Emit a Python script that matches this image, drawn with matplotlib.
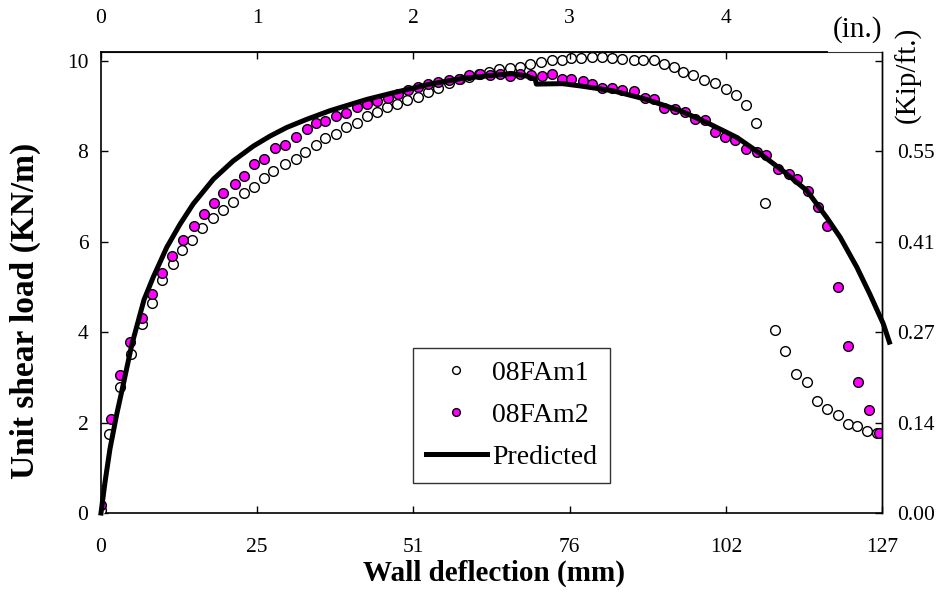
import matplotlib
matplotlib.use("Agg")
import matplotlib.pyplot as plt

plt.rcParams['font.family'] = ['Liberation Serif', 'DejaVu Serif']

# ---- measured data -------------------------------------------------------
# Specimen 08FAm1 (open circles): wall deflection (mm), unit shear load (kN/m)
fam1_defl = [0, 1.35, 3.09, 4.88, 6.72, 8.35, 9.97, 11.66, 13.1, 14.75, 16.5, 18.2,
             19.9, 21.5, 23.25, 24.9, 26.5, 28.0, 30.0, 31.7, 33.2, 34.9, 36.5, 38.2,
             39.8, 41.6, 43.3, 44.9, 46.5, 48.1, 49.8, 51.6, 53.2, 54.8, 56.6, 58.4,
             59.9, 61.5, 63.1, 64.7, 66.5, 68.1, 69.8, 71.5, 73.3, 74.9, 76.5, 78.0,
             79.8, 81.4, 83.1, 84.8, 86.6, 88.2, 89.9, 91.5, 93.1, 94.7, 96.3, 98.05,
             99.8, 101.6, 103.2, 104.9, 106.5, 108.0, 109.6, 111.3, 113.0, 114.8, 116.5,
             118.1, 119.8, 121.5, 122.9, 124.6, 126.2]
fam1_load = [0.07, 1.74, 2.79, 3.51, 4.19, 4.64, 5.16, 5.50, 5.81, 6.04, 6.30, 6.53,
             6.71, 6.88, 7.07, 7.22, 7.41, 7.57, 7.72, 7.83, 7.98, 8.15, 8.29, 8.38,
             8.53, 8.64, 8.79, 8.88, 8.98, 9.06, 9.14, 9.21, 9.32, 9.40, 9.52, 9.60,
             9.65, 9.72, 9.76, 9.82, 9.85, 9.87, 9.93, 9.97, 10.02, 10.02, 10.06, 10.06,
             10.09, 10.09, 10.06, 10.04, 10.02, 10.02, 10.02, 9.94, 9.87, 9.76, 9.69, 9.57,
             9.52, 9.38, 9.25, 9.03, 8.64, 6.87, 4.04, 3.58, 3.08, 2.89, 2.48,
             2.31, 2.16, 1.96, 1.93, 1.82, 1.77]

# Specimen 08FAm2 (magenta circles)
fam2_defl = [0, 1.63, 3.09, 4.72, 6.62, 8.35, 9.87, 11.6, 13.4, 15.1, 16.75, 18.4,
             19.9, 21.8, 23.25, 24.9, 26.5, 28.3, 30.0, 31.7, 33.45, 34.9, 36.5, 38.2,
             39.8, 41.6, 43.3, 44.9, 46.6, 48.3, 50.0, 51.6, 53.2, 54.8, 56.6, 58.2,
             59.9, 61.6, 63.3, 64.9, 66.5, 68.1, 69.9, 71.7, 73.3, 74.9, 76.5, 78.3,
             79.8, 81.4, 83.1, 84.8, 86.6, 88.5, 89.9, 91.5, 93.3, 95.0, 96.6, 98.2,
             99.8, 101.5, 103.1, 104.9, 106.6, 108.2, 110.1, 111.8, 113.1, 114.9, 116.6,
             118.0, 119.9, 121.5, 123.1, 124.9, 126.5]
fam2_load = [0.18, 2.09, 3.05, 3.78, 4.32, 4.85, 5.31, 5.69, 6.04, 6.34, 6.62, 6.85,
             7.07, 7.27, 7.46, 7.72, 7.83, 8.07, 8.15, 8.31, 8.49, 8.64, 8.68, 8.79,
             8.86, 8.98, 9.06, 9.12, 9.18, 9.26, 9.37, 9.43, 9.50, 9.54, 9.57, 9.61,
             9.69, 9.71, 9.69, 9.72, 9.67, 9.72, 9.69, 9.67, 9.72, 9.60, 9.60, 9.56,
             9.50, 9.40, 9.41, 9.35, 9.34, 9.18, 9.15, 8.97, 8.93, 8.88, 8.71, 8.69,
             8.44, 8.32, 8.25, 8.05, 7.98, 7.92, 7.61, 7.51, 7.39, 7.12, 6.78,
             6.36, 5.01, 3.69, 2.89, 2.27, 1.77]

# Model prediction
pred_defl = [0, 0.65, 1.46, 2.55, 3.63, 5.0, 6.2, 7.0, 8.5, 10.7, 12.85, 15.0,
             18.3, 21.5, 24.8, 27.5, 30.2, 33.45, 37.2, 43.2, 47.0, 53.5, 58.9, 64.3,
             66.8, 69.2, 70.6, 70.8, 75.0, 77.9, 83.3, 88.7, 94.2, 98.5, 103.4, 106.6,
             110.9, 114.8, 118.0, 120.2, 122.9, 125.0, 127.2, 128.2]
pred_load = [0, 0.68, 1.42, 2.18, 2.85, 3.72, 4.32, 4.72, 5.22, 5.88, 6.39, 6.84,
             7.39, 7.79, 8.12, 8.34, 8.53, 8.71, 8.90, 9.15, 9.28, 9.49, 9.62, 9.69,
             9.72, 9.67, 9.60, 9.49, 9.50, 9.45, 9.34, 9.15, 8.90, 8.64, 8.31, 8.01,
             7.57, 7.13, 6.54, 6.10, 5.44, 4.85, 4.19, 3.78]

# ---- axis ticks ----------------------------------------------------------
MM_PER_IN = 25.4
bottom_tick_in = [0, 1, 2, 3, 4, 5]
bottom_tick_labels = ['0', '25', '51', '76', '102', '127']
top_tick_in = [0, 1, 2, 3, 4]
top_tick_labels = ['0', '1', '2', '3', '4']
load_ticks = [0, 2, 4, 6, 8, 10]
kip_labels = ['0.00', '0.14', '0.27', '0.41', '0.55', '']

W, H = 942, 593
fig = plt.figure(figsize=(W / 100, H / 100), dpi=100)
L, R, T, B = 101, 882, 52, 513
ax = fig.add_axes([L / W, 1 - B / H, (R - L) / W, (B - T) / H])

ax.plot(fam1_defl, fam1_load, 'o', ms=7, mfc='white', mec='black', mew=1.0,
        ls='none', label='08FAm1', zorder=3)
ax.plot(fam2_defl, fam2_load, 'o', ms=7, mfc='#FF00FF', mec='black', mew=1.0,
        ls='none', label='08FAm2', zorder=4)
ax.plot(pred_defl, pred_load, '-', color='black', lw=3.6, label='Predicted',
        zorder=5, clip_on=False, solid_joinstyle='round')

ax.set_xlim(0, 127)
ax.set_ylim(0, 10.2)
ax.set_xticks([v * MM_PER_IN for v in bottom_tick_in])
ax.set_xticklabels(bottom_tick_labels)
ax.set_yticks(load_ticks)
ax.set_yticklabels([str(v) for v in load_ticks])
ax.tick_params(axis='x', direction='in', length=5, width=1, labelsize=15.5, pad=18)
ax.tick_params(axis='y', direction='in', length=5, width=1, labelsize=15.5, pad=9)
for s in ['left', 'bottom']:
    ax.spines[s].set_linewidth(1.2)
ax.spines['top'].set_linewidth(0.8)
ax.spines['top'].set_color('#333333')
ax.spines['right'].set_linewidth(1.0)

# right axis in kip/ft
ax2 = ax.twinx()
ax2.set_ylim(ax.get_ylim())
ax2.set_yticks(load_ticks)
ax2.set_yticklabels(kip_labels)
ax2.tick_params(axis='y', direction='in', length=5, width=1, labelsize=15.5, pad=11)
for s in ['left', 'bottom', 'top']:
    ax2.spines[s].set_visible(False)
ax2.spines['right'].set_linewidth(1.0)

# top axis in inches
ax3 = ax.twiny()
ax3.set_xlim(ax.get_xlim())
ax3.set_xticks([v * MM_PER_IN for v in top_tick_in])
ax3.set_xticklabels(top_tick_labels)
ax3.tick_params(axis='x', direction='in', length=5, width=1, labelsize=15.5, pad=17)
for s in ['left', 'bottom', 'right']:
    ax3.spines[s].set_visible(False)
ax3.spines['top'].set_linewidth(1.3)
ax3.spines['top'].set_bounds(0, 118)

leg = ax.legend(loc='upper left', bbox_to_anchor=(413 / W, 1 - 348 / H),
                bbox_transform=fig.transFigure, borderaxespad=0,
                fontsize=20, frameon=True, fancybox=False, framealpha=1,
                edgecolor='#333333', markerscale=0.8, handlelength=2.2,
                handletextpad=0.2, labelspacing=0.6, borderpad=0.45)
leg.get_frame().set_linewidth(1.0)
leg.set_zorder(10)

fig.text(25 / W, 1 - 311 / H, 'Unit shear load (KN/m)', rotation=90,
         ha='center', va='center', fontsize=24, fontweight='bold')
fig.text(494 / W, 1 - 573 / H, 'Wall deflection (mm)', ha='center',
         va='center', fontsize=21, fontweight='bold')
fig.text(908 / W, 1 - 75 / H, '(Kip/ft.)', rotation=90, ha='center',
         va='center', fontsize=21)
fig.text(857 / W, 1 - 30 / H, '(in.)', ha='center', va='center', fontsize=21)

fig.savefig('out.png', dpi=100)
